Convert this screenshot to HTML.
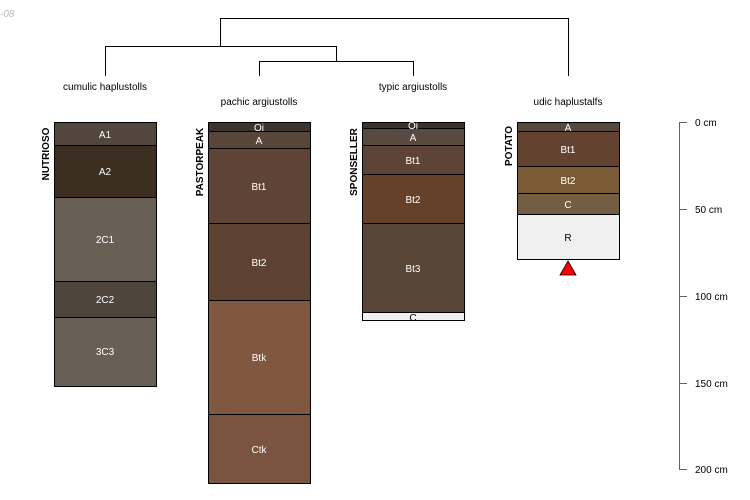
<!DOCTYPE html>
<html><head><style>body{margin:0;background:#fff}svg{display:block}</style></head><body>
<svg width="750" height="500" xmlns="http://www.w3.org/2000/svg" font-family="Liberation Sans, sans-serif">
<text x="0" y="17" font-size="10" fill="#bbb" font-style="italic">-08</text>
<g stroke="#000" stroke-width="1" fill="none">
<path d="M220.5 46V18.5H568.5V76"/>
<path d="M105.5 76V46.5H336.5V61"/>
<path d="M259.5 76V61.5H413.5V76"/>
</g>
<g font-size="10" fill="#000" text-anchor="middle">
<text x="105" y="90">cumulic haplustolls</text>
<text x="259" y="105">pachic argiustolls</text>
<text x="413" y="90">typic argiustolls</text>
<text x="568" y="105">udic haplustalfs</text>
</g>
<g stroke="#000" stroke-width="1">
<rect x="54.5" y="122.5" width="102" height="23" fill="#52473d"/>
<rect x="54.5" y="145.5" width="102" height="52" fill="#3d2e22"/>
<rect x="54.5" y="197.5" width="102" height="84" fill="#686055"/>
<rect x="54.5" y="281.5" width="102" height="36" fill="#4e463c"/>
<rect x="54.5" y="317.5" width="102" height="69" fill="#686055"/>

<rect x="208.5" y="122.5" width="102" height="9" fill="#3d342d"/>
<rect x="208.5" y="131.5" width="102" height="17" fill="#574639"/>
<rect x="208.5" y="148.5" width="102" height="75" fill="#5e4434"/>
<rect x="208.5" y="223.5" width="102" height="77" fill="#5e4232"/>
<rect x="208.5" y="300.5" width="102" height="114" fill="#80573f"/>
<rect x="208.5" y="414.5" width="102" height="69" fill="#7a5440"/>

<rect x="362.5" y="122.5" width="102" height="6" fill="#3a332c"/>
<rect x="362.5" y="128.5" width="102" height="17" fill="#584a40"/>
<rect x="362.5" y="145.5" width="102" height="29" fill="#5e4436"/>
<rect x="362.5" y="174.5" width="102" height="49" fill="#654129"/>
<rect x="362.5" y="223.5" width="102" height="89" fill="#584639"/>
<rect x="362.5" y="312.5" width="102" height="8" fill="#f0f0f0"/>

<rect x="517.5" y="122.5" width="102" height="9" fill="#574a3d"/>
<rect x="517.5" y="131.5" width="102" height="35" fill="#634330"/>
<rect x="517.5" y="166.5" width="102" height="27" fill="#7a5b36"/>
<rect x="517.5" y="193.5" width="102" height="21" fill="#735e44"/>
<rect x="517.5" y="214.5" width="102" height="45" fill="#f0f0f0"/>
</g>
<polygon points="568,261 576,275 560,275" fill="#f00" stroke="#000" stroke-width="0.8"/>
<g font-size="10" fill="#fff" text-anchor="middle">
<text x="105" y="138">A1</text><text x="105" y="175">A2</text><text x="105" y="243">2C1</text><text x="105" y="303">2C2</text><text x="105" y="355">3C3</text>
<text x="259" y="131">Oi</text><text x="259" y="144">A</text><text x="259" y="190">Bt1</text><text x="259" y="266">Bt2</text><text x="259" y="361">Btk</text><text x="259" y="453">Ctk</text>
<text x="413" y="129">Oi</text><text x="413" y="141">A</text><text x="413" y="164">Bt1</text><text x="413" y="203">Bt2</text><text x="413" y="272">Bt3</text>
<text x="413" y="321" fill="#000">C</text>
<text x="568" y="131">A</text><text x="568" y="153">Bt1</text><text x="568" y="184">Bt2</text><text x="568" y="208">C</text>
<text x="568" y="241" fill="#000">R</text>
</g>
<g font-size="10" font-weight="bold" fill="#000">
<text transform="translate(49,154) rotate(-90)" text-anchor="middle">NUTRIOSO</text>
<text transform="translate(203,162) rotate(-90)" text-anchor="middle">PASTORPEAK</text>
<text transform="translate(357,162) rotate(-90)" text-anchor="middle">SPONSELLER</text>
<text transform="translate(512,146) rotate(-90)" text-anchor="middle">POTATO</text>
</g>
<g stroke="#666" stroke-width="1" fill="none">
<path d="M679.5 122V469"/>
<path d="M679 122.5H687M679 209.5H687M679 296.5H687M679 383.5H687M679 469.5H687"/>
</g>
<g font-size="10" fill="#000">
<text x="695" y="126">0 cm</text><text x="695" y="213">50 cm</text><text x="695" y="300">100 cm</text><text x="695" y="387">150 cm</text><text x="695" y="473">200 cm</text>
</g>
</svg>
</body></html>
